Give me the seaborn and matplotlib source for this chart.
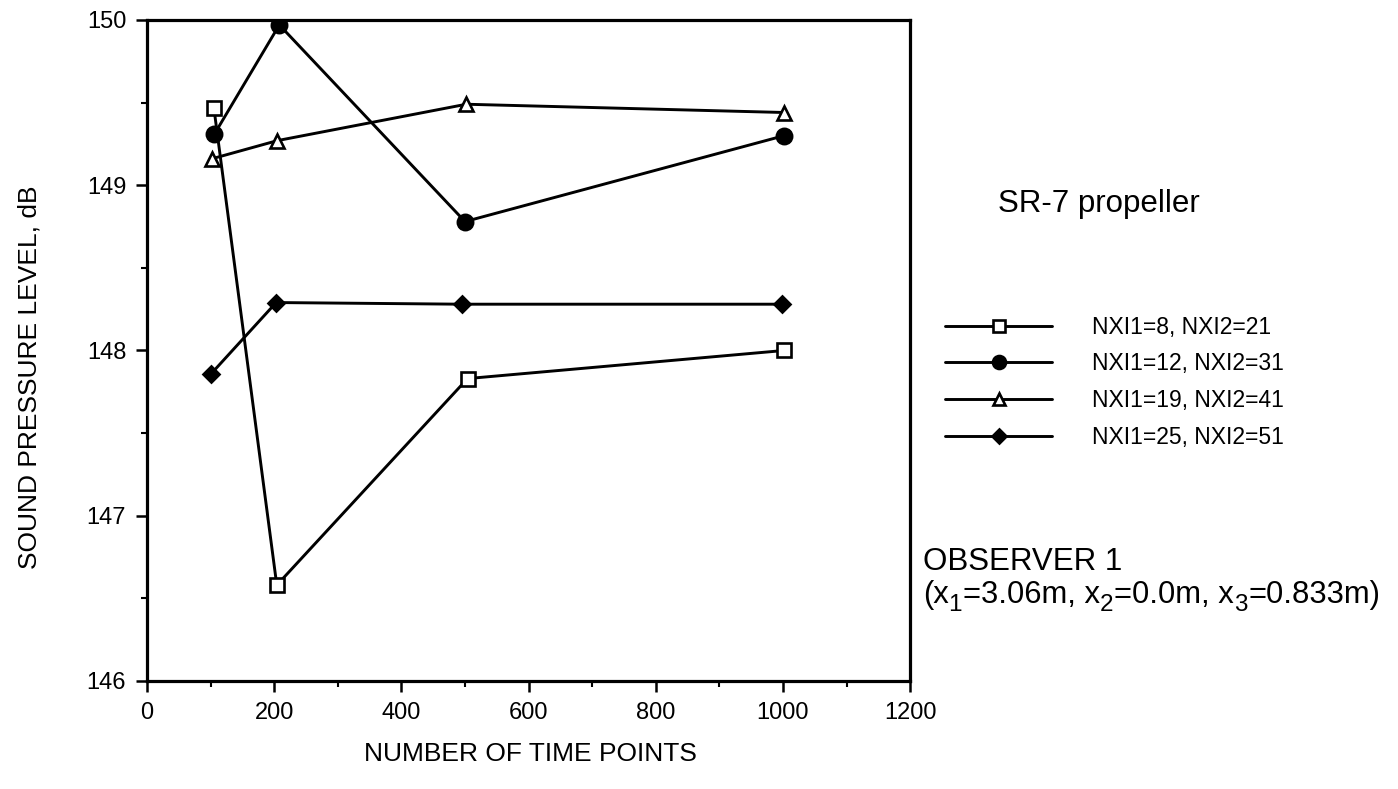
import matplotlib
matplotlib.use("Agg")
import matplotlib.pyplot as plt
import seaborn as sns
import pandas as pd
from matplotlib.ticker import MultipleLocator

# ---- data ----
labels = ["NXI1=8, NXI2=21", "NXI1=12, NXI2=31", "NXI1=19, NXI2=41", "NXI1=25, NXI2=51"]
x_sq = [105, 204, 504, 1002]
y_sq = [149.47, 146.58, 147.83, 148.00]
x_ci = [106, 208, 500, 1002]
y_ci = [149.31, 149.97, 148.78, 149.30]
x_tr = [102, 205, 502, 1002]
y_tr = [149.16, 149.27, 149.49, 149.44]
x_di = [101, 203, 495, 998]
y_di = [147.86, 148.29, 148.28, 148.28]

xs = [x_sq, x_ci, x_tr, x_di]
ys = [y_sq, y_ci, y_tr, y_di]

frames = []
for lab, xv, yv in zip(labels, xs, ys):
    frames.append(pd.DataFrame({"points": xv, "spl": yv, "config": lab}))
df = pd.concat(frames, ignore_index=True)

sns.set_theme(style="ticks")
plt.rcParams["font.family"] = ["Liberation Sans", "DejaVu Sans"]
plt.rcParams["text.color"] = "black"
plt.rcParams["axes.labelcolor"] = "black"
plt.rcParams["xtick.color"] = "black"
plt.rcParams["ytick.color"] = "black"

fig = plt.figure(figsize=(13.98, 7.89), dpi=100)
ax = fig.add_axes([0.1052, 0.1369, 0.651 - 0.1052, 0.9747 - 0.1369])

styles = [
    dict(marker="s", mfc="white", ms=10),
    dict(marker="o", mfc="black", ms=11),
    dict(marker="^", mfc="white", ms=10),
    dict(marker="D", mfc="black", ms=8),
]
for lab, st in zip(labels, styles):
    sub = df[df["config"] == lab]
    sns.lineplot(data=sub, x="points", y="spl", ax=ax, color="black",
                 linewidth=2.1, marker=st["marker"], markersize=st["ms"],
                 markerfacecolor=st["mfc"], markeredgecolor="black",
                 markeredgewidth=1.9, label=lab, sort=False)

ax.set_xlim(0, 1200)
ax.set_ylim(146, 150)
ax.xaxis.set_major_locator(MultipleLocator(200))
ax.xaxis.set_minor_locator(MultipleLocator(100))
ax.yaxis.set_major_locator(MultipleLocator(1))
ax.yaxis.set_minor_locator(MultipleLocator(0.5))
ax.tick_params(axis="both", which="major", direction="out", length=8, width=1.8,
               labelsize=17, color="black", labelcolor="black")
ax.tick_params(axis="x", which="major", pad=7)
ax.tick_params(axis="y", which="major", pad=7)
ax.tick_params(axis="both", which="minor", direction="out", length=4, width=1.5, color="black")
for s in ax.spines.values():
    s.set_visible(True)
    s.set_linewidth(2.3)
    s.set_color("black")

ax.set_xlabel("NUMBER OF TIME POINTS", fontsize=19, color="black")
ax.set_ylabel("SOUND PRESSURE LEVEL, dB", fontsize=19, color="black")
ax.xaxis.set_label_coords(0.503, -0.092)
ax.yaxis.set_label_coords(-0.138, 0.46)

handles, labs = ax.get_legend_handles_labels()
ax.get_legend().remove()
fig.legend(handles, labs, loc="upper left", bbox_to_anchor=(0.676, 0.600),
           frameon=False, fontsize=16.5, handlelength=4.67, handletextpad=1.75,
           labelspacing=0.6, borderpad=0, borderaxespad=0, markerscale=0.85)

fig.text(0.714, 0.7313, "SR-7 propeller", fontsize=22.5, va="baseline", ha="left")
fig.text(0.660, 0.2776, "OBSERVER 1", fontsize=22.5, va="baseline", ha="left")

# second observer line, built from pieces so the subscripts stay large
pieces = [("(x", False), ("1", True), ("=3.06m, x", False), ("2", True),
          ("=0.0m, x", False), ("3", True), ("=0.833m)", False)]
main_size = 22.3
sub_size = 17.5
renderer = fig.canvas.get_renderer()
x_px = 0.660 * fig.bbox.width
y_px = 0.2357 * fig.bbox.height
for txt, is_sub in pieces:
    t = fig.text(x_px / fig.bbox.width,
                 (y_px - (8 if is_sub else 0)) / fig.bbox.height,
                 txt, fontsize=sub_size if is_sub else main_size,
                 va="baseline", ha="left")
    bb = t.get_window_extent(renderer=renderer)
    x_px = bb.x1 + (1 if is_sub else 0)

fig.savefig("out.png", dpi=100)
